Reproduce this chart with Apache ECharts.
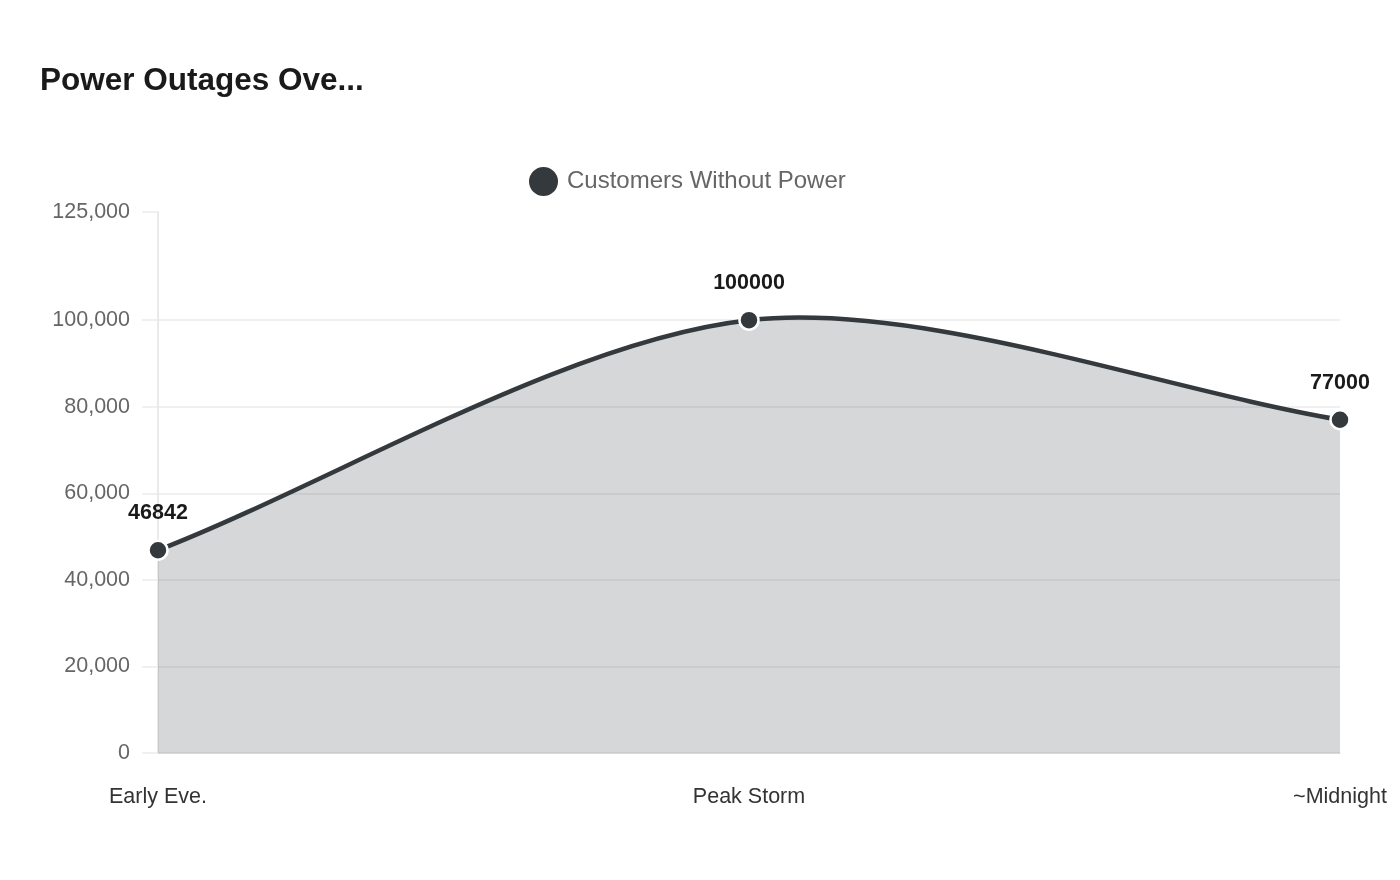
<!DOCTYPE html>
<html>
<head>
<meta charset="utf-8">
<script src="https://cdn.jsdelivr.net/npm/echarts@6/dist/echarts.min.js"></script>
<style>
html,body{margin:0;padding:0;background:#fff;}
#chart{width:1400px;height:880px;}
</style>
</head>
<body>
<div id="chart"></div>
<script>
const categories = ['Early Eve.', 'Peak Storm', '~Midnight'];
const seriesName = 'Customers Without Power';
const values = [46842, 100000, 77000];
const yTicks = [0, 20000, 40000, 60000, 80000, 100000, 125000];

const LINE_COLOR = '#33393c';
const FONT = 'Liberation Sans, Arial, sans-serif';
const fmt = v => v.toLocaleString('en-US');

// Cardinal spline (tension 0.3) through the points, computed in pixel space
function curvePaths(api) {
  const pts = values.map((v, i) => api.coord([i, v]));
  const t = 0.3;
  const dist = (a, b) => Math.hypot(b[0] - a[0], b[1] - a[1]);
  const cps = pts.map((p, i) => {
    const prev = pts[i - 1] || p, next = pts[i + 1] || p;
    const d01 = dist(prev, p), d12 = dist(p, next);
    const sum = d01 + d12;
    const fa = sum ? t * d01 / sum : 0, fb = sum ? t * d12 / sum : 0;
    return {
      prev: [p[0] - fa * (next[0] - prev[0]), p[1] - fa * (next[1] - prev[1])],
      next: [p[0] + fb * (next[0] - prev[0]), p[1] + fb * (next[1] - prev[1])]
    };
  });
  let d = 'M' + pts[0][0] + ' ' + pts[0][1];
  for (let i = 1; i < pts.length; i++) {
    const a = cps[i - 1].next, b = cps[i].prev, p = pts[i];
    d += ' C' + a[0] + ' ' + a[1] + ' ' + b[0] + ' ' + b[1] + ' ' + p[0] + ' ' + p[1];
  }
  const base = api.coord([0, 0])[1];
  const last = pts[pts.length - 1];
  const area = d + ' L' + last[0] + ' ' + base + ' L' + pts[0][0] + ' ' + base + ' Z';
  return { line: d, area: area };
}

const chart = echarts.init(document.getElementById('chart'));
chart.setOption({
  animation: false,
  textStyle: { fontFamily: FONT },
  title: {
    text: 'Power Outages Ove...',
    left: 35, top: 60,
    textStyle: { fontSize: 31.5, fontWeight: 'bold', color: '#1a1a1a', fontFamily: FONT }
  },
  legend: {
    data: [seriesName],
    left: 522, top: 160,
    icon: 'circle',
    itemWidth: 31, itemHeight: 31, itemGap: 10,
    textStyle: { fontSize: 24, color: '#666', fontFamily: FONT, padding: [0, 0, 0, 3] }
  },
  grid: { left: 158, right: 60, top: 212, bottom: 127, containLabel: false },
  xAxis: {
    type: 'category',
    data: categories,
    boundaryGap: false,
    axisLine: { show: true, lineStyle: { color: '#d9d9d9', width: 1 } },
    axisTick: { show: false },
    splitLine: { show: false },
    axisLabel: { fontSize: 21.5, color: '#333', margin: 33, fontFamily: FONT }
  },
  yAxis: {
    type: 'value',
    min: 0, max: 125000, interval: 20000,
    axisLine: { show: true, lineStyle: { color: '#e3e3e3', width: 1.5 } },
    axisTick: { show: true, length: 16, customValues: yTicks, lineStyle: { color: '#ebebeb', width: 1.5 } },
    splitLine: { show: true, lineStyle: { color: ['#ebebeb','#ebebeb','#ebebeb','#ebebeb','#ebebeb','#ebebeb','rgba(0,0,0,0)','#ebebeb'], width: 1.5 } },
    axisLabel: { fontSize: 21.5, color: '#666', margin: 28, customValues: yTicks, formatter: v => fmt(v), fontFamily: FONT }
  },
  series: [{
    name: 'curve',
    type: 'custom',
    z: 2,
    silent: true,
    data: [[0, values[0]]],
    renderItem: function (params, api) {
      const c = curvePaths(api);
      return {
        type: 'group',
        children: [
          { type: 'path', shape: { pathData: c.area }, style: { fill: 'rgba(51,57,60,0.2)', stroke: null } },
          { type: 'path', shape: { pathData: c.line }, style: { fill: null, stroke: LINE_COLOR, lineWidth: 4.5, lineJoin: 'round', lineCap: 'round' } }
        ]
      };
    }
  }, {
    name: seriesName,
    type: 'line',
    z: 3,
    data: values,
    symbol: 'circle',
    symbolSize: 19,
    lineStyle: { color: LINE_COLOR, width: 0, opacity: 0 },
    itemStyle: { color: LINE_COLOR, borderColor: '#fff', borderWidth: 2.5 },
    label: {
      show: true, position: 'top', distance: 15,
      fontSize: 21.5, fontWeight: 'bold', color: '#1a1a1a', fontFamily: FONT
    }
  }]
});
</script>
</body>
</html>
